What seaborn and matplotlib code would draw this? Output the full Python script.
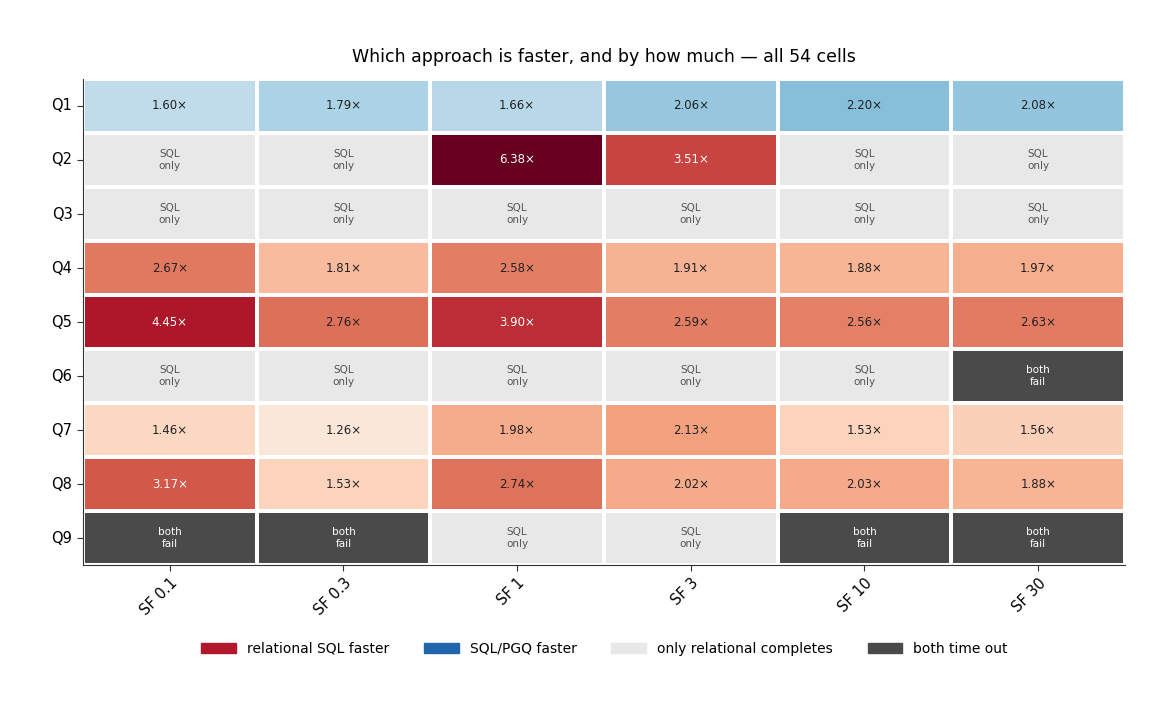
import numpy as np
import pandas as pd
import matplotlib
matplotlib.use("Agg")
import matplotlib.pyplot as plt
from matplotlib.colors import ListedColormap
from matplotlib.patches import Patch
import seaborn as sns

queries = ["Q1", "Q2", "Q3", "Q4", "Q5", "Q6", "Q7", "Q8", "Q9"]
scales = ["SF 0.1", "SF 0.3", "SF 1", "SF 3", "SF 10", "SF 30"]
# speedup ratio; "P" prefix = SQL/PGQ faster, "S" = SQL only, "F" = both fail
Q1 = ["P1.60", "P1.79", "P1.66", "P2.06", "P2.20", "P2.08"]
Q2 = ["S", "S", "6.38", "3.51", "S", "S"]
Q3 = ["S", "S", "S", "S", "S", "S"]
Q4 = ["2.67", "1.81", "2.58", "1.91", "1.88", "1.97"]
Q5 = ["4.45", "2.76", "3.90", "2.59", "2.56", "2.63"]
Q6 = ["S", "S", "S", "S", "S", "F"]
Q7 = ["1.46", "1.26", "1.98", "2.13", "1.53", "1.56"]
Q8 = ["3.17", "1.53", "2.74", "2.02", "2.03", "1.88"]
Q9 = ["F", "F", "S", "S", "F", "F"]
rows = [Q1, Q2, Q3, Q4, Q5, Q6, Q7, Q8, Q9]

n, m = len(queries), len(scales)
val = np.full((n, m), np.nan)
cat = np.full((n, m), np.nan)
for i, r in enumerate(rows):
    for j, s in enumerate(r):
        if s == "S":
            cat[i, j] = 0
        elif s == "F":
            cat[i, j] = 1
        elif s.startswith("P"):
            val[i, j] = -np.log(float(s[1:]))
        else:
            val[i, j] = np.log(float(s))

lim = np.log(6.38)
fig, ax = plt.subplots(figsize=(11.67, 7.11), dpi=100)
fig.subplots_adjust(left=0.071, right=0.964, top=0.889, bottom=0.205)
sns.heatmap(pd.DataFrame(val, index=queries, columns=scales), ax=ax, cmap="RdBu_r",
            vmin=-lim, vmax=lim, linewidths=1.5, linecolor="white", cbar=False)
sns.heatmap(pd.DataFrame(cat, index=queries, columns=scales), ax=ax,
            cmap=ListedColormap(["#e8e8e8", "#4a4a4a"]), vmin=0, vmax=1,
            linewidths=1.5, linecolor="white", cbar=False)

for i, r in enumerate(rows):
    for j, s in enumerate(r):
        if s == "S":
            ax.text(j + 0.5, i + 0.5, "SQL\nonly", ha="center", va="center",
                    fontsize=7.5, color="#555555", linespacing=1.2)
        elif s == "F":
            ax.text(j + 0.5, i + 0.5, "both\nfail", ha="center", va="center",
                    fontsize=7.5, color="white", linespacing=1.2)
        else:
            v = float(s.lstrip("P"))
            ax.text(j + 0.5, i + 0.5, f"{v:.2f}×", ha="center", va="center",
                    fontsize=8.5, color="white" if v > 3.0 else "#222222")

ax.set_title("Which approach is faster, and by how much — all 54 cells", fontsize=12.5, pad=12)
ax.set_xticklabels(scales, rotation=45, ha="right", fontsize=10.5, rotation_mode="anchor")
ax.set_yticklabels(queries, rotation=0, fontsize=10.5)
ax.set_xlabel("")
ax.set_ylabel("")
for side in ["left", "bottom"]:
    ax.spines[side].set_visible(True)
    ax.spines[side].set_color("#333333")
ax.tick_params(length=4, color="#333333")

handles = [Patch(color="#b2182b", label="relational SQL faster"),
           Patch(color="#2166ac", label="SQL/PGQ faster"),
           Patch(color="#e8e8e8", label="only relational completes"),
           Patch(color="#4a4a4a", label="both time out")]
fig.legend(handles=handles, loc="lower center", ncol=4, frameon=False,
           fontsize=10, bbox_to_anchor=(0.518, 0.06), handlelength=2.5, columnspacing=2.5)
fig.savefig("out.png", dpi=100)
